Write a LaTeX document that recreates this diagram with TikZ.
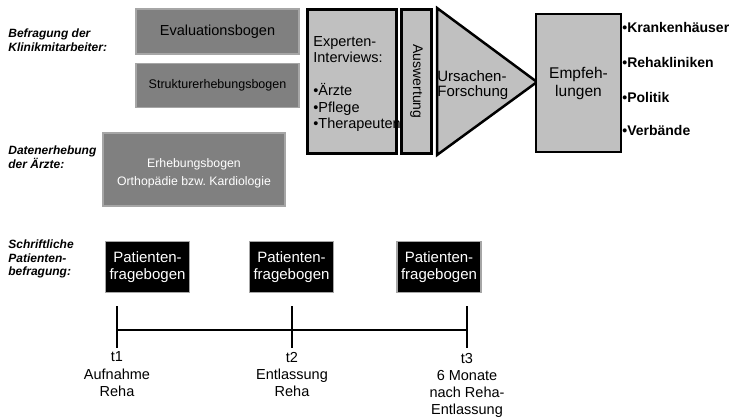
\documentclass[tikz,border=0pt]{standalone}
\usepackage{fontspec}
\setmainfont{Liberation Sans}
\usetikzlibrary{positioning}
\definecolor{boxgray}{HTML}{808080}
\definecolor{rimgray}{HTML}{A6A6A6}
\definecolor{panelgray}{HTML}{C0C0C0}
\tikzset{every picture/.style={line width=0.75pt}}

\begin{document}
\begin{tikzpicture}[x=1pt, y=-1pt,
    formbox/.style={draw=rimgray, fill=boxgray, line width=1.5pt, inner sep=0pt, align=center},
    panel/.style={draw=black, fill=panelgray, line width=2.5pt, inner sep=0pt},
    patbox/.style={draw=rimgray, fill=black, text=white, line width=1.5pt, inner sep=0pt,
        minimum width=84pt, minimum height=51pt, align=center, font=\fontsize{15}{17.3}\selectfont},
    side/.style={anchor=west, align=left, inner sep=0pt, font=\fontsize{12}{13.6}\selectfont\bfseries\itshape},
    target/.style={anchor=west, inner sep=0pt, font=\fontsize{14}{16}\selectfont\bfseries},
    when/.style={anchor=north, align=center, inner sep=0pt, font=\fontsize{14.5}{17.3}\selectfont},
    tick/.style={line width=1.5pt}]
    \useasboundingbox (0,0) rectangle (738,419);

    \node[side] (befr) at (8,40.5) {Befragung der\\Klinikmitarbeiter:};
    \node[side] (daten) at (8,157) {Datenerhebung\\der Ärzte:};
    \node[side] (schrift) at (8,259) {Schriftliche\\Patienten-\\befragung:};

    \node[formbox, minimum width=163pt, minimum height=45pt,
        font=\fontsize{14.5}{16}\selectfont] (eval) at (217.5,31.5) {Evaluationsbogen};
    \node[formbox, minimum width=163pt, minimum height=44pt, below=8pt of eval,
        font=\fontsize{12.5}{14}\selectfont] (strukt) {Strukturerhebungsbogen};
    \node[formbox, minimum width=182pt, minimum height=73pt] (erheb) at (194,169.5) {};
    \node[align=center, text=white, inner sep=0pt, font=\fontsize{12.3}{17.7}\selectfont]
        (erhebtext) at (194,173) {Erhebungsbogen\\Orthopädie bzw.\ Kardiologie};

    \node[panel, minimum width=89pt, minimum height=144pt] (exp) at (352,81.5) {};
    \node[anchor=west, align=left, inner sep=0pt, font=\fontsize{14.5}{16.4}\selectfont]
        (exptext) at (313,84) {Experten-\\Interviews:\\\mbox{}\\•Ärzte\\•Pflege\\•Therapeuten};
    \node[panel, rotate=-90, minimum width=144pt, minimum height=30pt,
        font=\fontsize{14}{16}\selectfont] (ausw) at (416.5,81.5) {Auswertung};

    \coordinate (trtop) at (437,8);
    \coordinate (trtip) at (537,82);
    \coordinate (trbot) at (437,155);
    \filldraw[panel] (trtop) -- (trtip) -- (trbot) -- cycle;
    \node[anchor=west, align=left, inner sep=0pt, font=\fontsize{15}{15.6}\selectfont]
        (urs) at (437,85) {Ursachen-\\Forschung};

    \node[panel, minimum width=85pt, minimum height=138pt, align=center,
        font=\fontsize{15.5}{18}\selectfont] (empf) at (578.5,83) {Empfeh-\\lungen};

    \node[target] (kh) at (622,28) {•Krankenhäuser};
    \node[target] (rk) at (622,62.5) {•Rehakliniken};
    \node[target] (pol) at (622,97) {•Politik};
    \node[target] (verb) at (622,130.5) {•Verbände};

    \node[patbox] (pat1) at (147.5,267) {Patienten-\\fragebogen};
    \node[patbox] (pat2) at (291.5,267) {Patienten-\\fragebogen};
    \node[patbox] (pat3) at (439,267) {Patienten-\\fragebogen};

    \coordinate (t1) at (117,330);
    \coordinate (t2) at (292,330);
    \coordinate (t3) at (467,330);
    \draw[tick] (t1) -- (t2) -- (t3);
    \foreach \t in {t1,t2,t3}
        \draw[tick] ([yshift=24pt]\t) -- ([yshift=-18pt]\t);

    \node[when] (lab1) at (117,351.5) {t1\\Aufnahme\\Reha};
    \node[when] (lab2) at (292,351.5) {t2\\Entlassung\\Reha};
    \node[when] (lab3) at (467,352.5) {t3\\6 Monate\\nach Reha-\\Entlassung};
\end{tikzpicture}
\end{document}
